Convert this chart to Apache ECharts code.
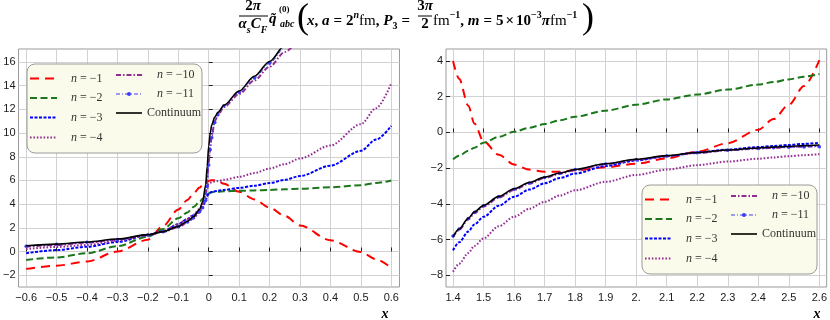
<!DOCTYPE html>
<html>
<head>
<meta charset="utf-8">
<script src="https://cdn.jsdelivr.net/npm/echarts@6/dist/echarts.min.js"></script>
<style>
html, body { margin: 0; padding: 0; background: #fff; }
#chart { width: 830px; height: 320px; }
</style>
</head>
<body>
<div id="chart"></div>
<script>
// left panel, x in [-0.6, 0.6]
var leftX = [-0.6, -0.5, -0.4, -0.3, -0.2, -0.15, -0.1, -0.07, -0.05, -0.03, -0.02, -0.01, -0.005, 0, 0.005, 0.01, 0.02, 0.03, 0.05, 0.1, 0.15, 0.2, 0.25, 0.3, 0.4, 0.5, 0.55, 0.6]
var leftN1 = [-1.47, -1.2, -0.85, 0.0, 1.0, 2.15, 3.55, 4.35, 4.9, 5.4, 5.6, 5.78, 5.88, 5.95, 6.0, 6.02, 6.02, 5.95, 5.72, 5.05, 4.4, 3.7, 3.0, 2.2, 0.95, -0.05, -0.65, -1.4]
var leftN2 = [-0.71, -0.5, -0.15, 0.45, 1.25, 1.9, 2.8, 3.3, 3.75, 4.2, 4.45, 4.7, 4.8, 4.9, 4.96, 5.0, 5.03, 5.05, 5.08, 5.12, 5.16, 5.2, 5.25, 5.3, 5.42, 5.6, 5.78, 6.0]
var leftN3 = [-0.15, 0.12, 0.4, 0.8, 1.38, 1.7, 2.3, 2.75, 3.05, 3.45, 3.75, 4.3, 4.65, 4.9, 4.98, 5.03, 5.08, 5.13, 5.2, 5.37, 5.55, 5.78, 6.05, 6.37, 7.25, 8.5, 9.45, 10.6]
var leftN4 = [0.2, 0.38, 0.55, 0.9, 1.4, 1.72, 2.3, 2.75, 3.1, 3.6, 4.0, 4.8, 5.3, 5.72, 5.8, 5.85, 5.9, 5.95, 6.05, 6.3, 6.62, 7.0, 7.38, 7.85, 8.95, 10.75, 12.1, 14.2]
var leftN10 = [0.4, 0.55, 0.75, 1.0, 1.38, 1.65, 2.05, 2.45, 2.8, 3.3, 3.8, 5.0, 6.2, 7.5, 8.8, 9.8, 11.0, 11.5, 12.2, 13.3, 14.45, 15.6, 16.85, 18.1, null, null, null, null]
var leftN11 = [0.45, 0.6, 0.78, 1.02, 1.4, 1.66, 2.08, 2.5, 2.85, 3.35, 3.7, 4.3, 5.5, 7.3, 8.6, 9.6, 10.9, 11.55, 12.3, 13.45, 14.65, 15.9, 17.2, 18.5, null, null, null, null]
var leftCont = [0.48, 0.62, 0.8, 1.05, 1.42, 1.68, 2.12, 2.55, 2.95, 3.55, 4.2, 5.6, 7.2, 8.9, 10.0, 10.7, 11.35, 11.75, 12.35, 13.55, 14.8, 16.05, 17.4, 18.7, null, null, null, null]

// right panel, x in [1.4, 2.6]
var rightX = [1.4, 1.42, 1.45, 1.47, 1.5, 1.55, 1.6, 1.65, 1.7, 1.75, 1.8, 1.9, 2.0, 2.1, 2.2, 2.3, 2.4, 2.45, 2.5, 2.55, 2.6]
var rightN1 = [4.0, 3.0, 1.5, 0.5, -0.5, -1.25, -1.8, -2.08, -2.2, -2.2, -2.12, -1.95, -1.75, -1.45, -1.08, -0.6, 0.15, 0.75, 1.55, 2.6, 4.05]
var rightN2 = [-1.5, -1.3, -1.03, -0.85, -0.57, -0.25, 0.04, 0.26, 0.47, 0.68, 0.88, 1.22, 1.55, 1.85, 2.12, 2.4, 2.68, 2.82, 2.97, 3.12, 3.27]
var rightN3 = [-6.6, -6.15, -5.55, -5.15, -4.72, -4.1, -3.6, -3.2, -2.85, -2.55, -2.3, -1.88, -1.57, -1.33, -1.12, -0.96, -0.82, -0.76, -0.7, -0.64, -0.58]
var rightN4 = [-7.8, -7.35, -6.75, -6.35, -5.93, -5.25, -4.72, -4.27, -3.88, -3.53, -3.24, -2.76, -2.38, -2.08, -1.83, -1.63, -1.47, -1.4, -1.33, -1.27, -1.22]
var rightN10 = [-5.85, -5.45, -4.87, -4.52, -4.15, -3.65, -3.22, -2.86, -2.55, -2.31, -2.1, -1.78, -1.53, -1.33, -1.15, -1.0, -0.9, -0.86, -0.82, -0.78, -0.75]
var rightN11 = [-5.8, -5.4, -4.82, -4.47, -4.1, -3.6, -3.18, -2.83, -2.52, -2.29, -2.08, -1.76, -1.52, -1.32, -1.14, -1.0, -0.9, -0.86, -0.83, -0.81, -0.8]
var rightCont = [-5.84, -5.4, -4.8, -4.45, -4.08, -3.58, -3.15, -2.8, -2.5, -2.27, -2.07, -1.75, -1.5, -1.3, -1.12, -0.98, -0.87, -0.82, -0.78, -0.74, -0.7]

// ticks
var leftXTicks = [-0.6, -0.5, -0.4, -0.3, -0.2, -0.1, 0, 0.1, 0.2, 0.3, 0.4, 0.5, 0.6]
var leftXLabels = ['\u22120.6', '\u22120.5', '\u22120.4', '\u22120.3', '\u22120.2', '\u22120.1', '0', '0.1', '0.2', '0.3', '0.4', '0.5', '0.6']
var leftYTicks = [-2, 0, 2, 4, 6, 8, 10, 12, 14, 16]
var leftYLabels = ['\u22122', '0', '2', '4', '6', '8', '10', '12', '14', '16']
var rightXTicks = [1.4, 1.5, 1.6, 1.7, 1.8, 1.9, 2.0, 2.1, 2.2, 2.3, 2.4, 2.5, 2.6]
var rightXLabels = ['1.4', '1.5', '1.6', '1.7', '1.8', '1.9', '2.', '2.1', '2.2', '2.3', '2.4', '2.5', '2.6']
var rightYTicks = [-8, -6, -4, -2, 0, 2, 4]
var rightYLabels = ['\u22128', '\u22126', '\u22124', '\u22122', '0', '2', '4']

var names = ['n = \u22121', 'n = \u22122', 'n = \u22123', 'n = \u22124', 'n = \u221210', 'n = \u221211', 'Continuum']

var styles = [
	{color: '#ff0000', width: 2, dash: [9, 6]},
	{color: '#1b771b', width: 2, dash: [7, 3.5]},
	{color: '#0000ff', width: 2, dash: [3, 1.5]},
	{color: '#922b92', width: 2, dash: [1.6, 1.8]},
	{color: '#922b92', width: 2, dash: [5, 2, 1.5, 2]},
	{color: '#3c3cff', width: 1, dash: [4, 2, 1, 2]},
	{color: '#000000', width: 1.6, dash: null}
]

var SERIF = 'Liberation Serif'
var SANS = 'Liberation Sans'

function pick (ticks, labels) {
	return function (v) {
		for (var i = 0; i < ticks.length; i++) {
			if (Math.abs(ticks[i] - v) < 1e-6) return labels[i]
		}
		return ''
	}
}

function pairs (xs, ys) {
	return xs.map(function (x, i) { return [x, ys[i]] })
}

function xAxisOf (idx, min, max, ticks, labels) {
	return {
		type: 'value', gridIndex: idx, min: min, max: max,
		axisLine: {show: false},
		axisTick: {show: true, inside: true, length: 4, customValues: ticks, lineStyle: {color: '#222', width: 1}},
		axisLabel: {customValues: ticks, formatter: pick(ticks, labels), fontFamily: SANS, fontSize: 11, color: '#1a1a1a', margin: 5},
		splitLine: {show: true, lineStyle: {color: '#d2d2d2', width: 1}}
	}
}

function yAxisOf (idx, min, max, ticks, labels) {
	return {
		type: 'value', gridIndex: idx, min: min, max: max,
		axisLine: {show: false},
		axisTick: {show: true, inside: true, length: 4, customValues: ticks, lineStyle: {color: '#222', width: 1}},
		axisLabel: {customValues: ticks, formatter: pick(ticks, labels), fontFamily: SANS, fontSize: 11, color: '#1a1a1a', margin: 3},
		splitLine: {show: true, lineStyle: {color: '#d2d2d2', width: 1}}
	}
}

function lineSeries (k, panel, xs, ys) {
	var s = styles[k]
	var marked = k === 5
	return {
		type: 'line', name: names[k],
		xAxisIndex: panel, yAxisIndex: panel,
		data: pairs(xs, ys),
		smooth: 0.3, smoothMonotone: 'x',
		showSymbol: marked, symbol: marked ? 'circle' : 'none', symbolSize: 3.5,
		itemStyle: {color: s.color},
		lineStyle: {color: s.color, width: s.width, type: s.dash || 'solid'},
		connectNulls: false, silent: true, z: 2 + k
	}
}

function legend (x0, y0) {
	var out = [{
		type: 'rect', shape: {x: x0, y: y0, width: 175, height: 89, r: 8},
		style: {fill: '#fbfbeb', stroke: '#9a9a9a', lineWidth: 1}, z: 50
	}]
	var slots = [
		[3, 30, 44, 14.5], [3, 30, 44, 34], [3, 30, 44, 53.5], [3, 30, 44, 73.5],
		[89, 115, 130, 11], [89, 115, 130, 30], [89, 115, 120, 49]
	]
	slots.forEach(function (p, k) {
		var s = styles[k]
		var y = y0 + p[3]
		out.push({
			type: 'line', shape: {x1: x0 + p[0], y1: y, x2: x0 + p[1], y2: y},
			style: {stroke: s.color, lineWidth: s.width, lineDash: s.dash}, z: 51
		})
		if (k === 5) {
			out.push({type: 'circle', shape: {cx: x0 + (p[0] + p[1]) / 2, cy: y, r: 2}, style: {fill: s.color}, z: 52})
		}
		var txt = k === 6 ? '{r|Continuum}' : '{i|n}{e|=}{r|' + names[k].slice(4) + '}'
		out.push({
			type: 'text', x: x0 + p[2], y: y, z: 52,
			style: {
				text: txt, align: 'left', verticalAlign: 'middle',
				rich: {
					i: {fontFamily: SERIF, fontStyle: 'italic', fontSize: 12, fill: '#333'},
					e: {fontFamily: SERIF, fontSize: 12, fill: '#333', padding: [0, 3, 0, 3]},
					r: {fontFamily: SERIF, fontSize: 12, fill: '#333'}
				}
			}
		})
	})
	return out
}

function tok (size, bold, italic, pb, side) {
	return {fontFamily: SERIF, fontSize: size, fontWeight: bold ? 'bold' : 'normal', fontStyle: italic ? 'italic' : 'normal', verticalAlign: 'bottom', padding: [0, side || 0, pb, side || 0], fill: '#000'}
}

var RICH = {
	b: tok(15, true, false, 3),
	eq: tok(15, true, false, 3, 4),
	tm: tok(15, true, false, 3, 2),
	bi: tok(15, true, true, 3),
	rm: tok(15, false, false, 3),
	sup: tok(10, true, false, 11),
	supi: tok(10, true, true, 11),
	sub: tok(10, true, false, 0),
	subi: tok(10, true, true, 0)
}

function tx (x, y, text, align) {
	return {type: 'text', x: x, y: y, z: 60, style: {text: text, rich: RICH, align: align || 'left', verticalAlign: 'middle'}}
}

function bar (x1, x2, y) {
	return {type: 'line', shape: {x1: x1, y1: y, x2: x2, y2: y}, style: {stroke: '#000', lineWidth: 1}, z: 60}
}

var title = [
	tx(253, 8, '{b|2}{bi|\u03c0}', 'center'),
	bar(239, 268, 16),
	tx(253, 26, '{bi|\u03b1}{subi|s}{bi|C}{subi|F}', 'center'),
	tx(269, 21, '{bi|q\u0303}'),
	{type: 'text', x: 279, y: 10, z: 60, style: {text: '(0)', font: 'bold 9px ' + SERIF, verticalAlign: 'middle'}},
	{type: 'text', x: 280, y: 24, z: 60, style: {text: 'abc', font: 'italic bold 10px ' + SERIF, verticalAlign: 'middle'}},
	{type: 'text', x: 297, y: 19, z: 60, style: {text: '(', font: '36px ' + SERIF, verticalAlign: 'middle'}},
	tx(307, 21, '{bi|x}{b|, }{bi|a}{eq|=}{b|2}{supi|n}{rm|fm}{b|, }{bi|P}{sub|3}{eq|=}'),
	tx(425, 8, '{b|3}{bi|\u03c0}', 'center'),
	bar(418, 432, 16),
	tx(425, 26, '{b|2}', 'center'),
	tx(433, 21, '{rm|fm}{sup|\u22121}{b|, }{bi|m}{eq|=}{b|5}{tm|\u00d7}{b|10}{sup|\u22123}{bi|\u03c0}{rm|fm}{sup|\u22121}'),
	{type: 'text', x: 582, y: 19, z: 60, style: {text: ')', font: '36px ' + SERIF, verticalAlign: 'middle'}},
	{type: 'text', x: 385, y: 314, z: 60, style: {text: 'x', font: 'italic bold 14px ' + SERIF, align: 'center', verticalAlign: 'middle'}},
	{type: 'text', x: 817, y: 314, z: 60, style: {text: 'x', font: 'italic bold 14px ' + SERIF, align: 'center', verticalAlign: 'middle'}}
]

var chart = echarts.init(document.getElementById('chart'), null, {renderer: 'canvas'})

var leftSets = [leftN1, leftN2, leftN3, leftN4, leftN10, leftN11, leftCont]
var rightSets = [rightN1, rightN2, rightN3, rightN4, rightN10, rightN11, rightCont]
var series = []
leftSets.forEach(function (ys, k) { series.push(lineSeries(k, 0, leftX, ys)) })
rightSets.forEach(function (ys, k) { series.push(lineSeries(k, 1, rightX, ys)) })

chart.setOption({
	animation: false,
	backgroundColor: '#ffffff',
	grid: [
		{left: 14.5, top: 49, width: 385, height: 238, show: true, borderColor: '#9a9a9a', borderWidth: 1, backgroundColor: 'transparent'},
		{left: 446, top: 49, width: 382, height: 238, show: true, borderColor: '#9a9a9a', borderWidth: 1, backgroundColor: 'transparent'}
	],
	xAxis: [
		xAxisOf(0, -0.625, 0.627, leftXTicks, leftXLabels),
		xAxisOf(1, 1.377, 2.624, rightXTicks, rightXLabels)
	],
	yAxis: [
		yAxisOf(0, -3, 17.1, leftYTicks, leftYLabels),
		yAxisOf(1, -8.65, 4.67, rightYTicks, rightYLabels)
	],
	series: series,
	graphic: title.concat(legend(27, 64), legend(642, 185))
})
</script>
</body>
</html>
